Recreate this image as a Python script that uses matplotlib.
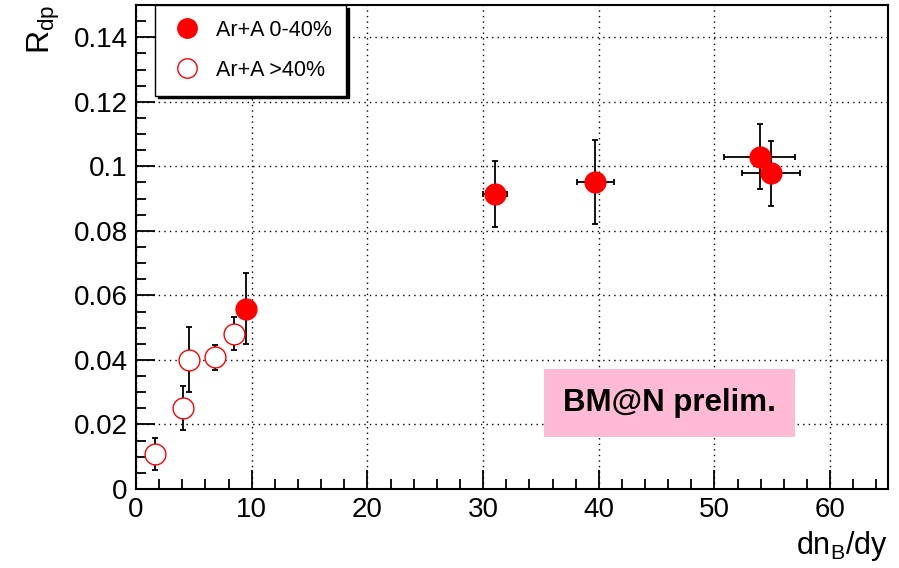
import matplotlib
matplotlib.use('Agg')
import matplotlib.pyplot as plt
from matplotlib.ticker import MultipleLocator
from matplotlib.lines import Line2D
from matplotlib.patches import Rectangle

# Ar+A >40% (open markers)
peri_x = [1.6, 4.1, 4.6, 6.8, 8.5]
peri_y = [0.0109, 0.0251, 0.0401, 0.0408, 0.0481]
peri_yerr = [0.0050, 0.0068, 0.0100, 0.0039, 0.0051]

# Ar+A 0-40% (filled markers)
cent_x = [9.5, 31.0, 39.7, 53.9, 54.9]
cent_y = [0.0559, 0.0913, 0.0952, 0.1030, 0.0979]
cent_xerr = [0.0, 1.04, 1.6, 3.1, 2.5]
cent_yerr = [0.0109, 0.0102, 0.0131, 0.0100, 0.0101]

labels = ['Ar+A 0-40%', 'Ar+A >40%']

plt.rcParams['font.family'] = ['Liberation Sans', 'DejaVu Sans']

fig = plt.figure(figsize=(8.99, 5.68), dpi=100)
ax = fig.add_axes([0.1513, 0.1391, 0.8365, 0.8521])

ax.errorbar(peri_x, peri_y, yerr=peri_yerr, fmt='none', ecolor='black',
            elinewidth=1.3, capsize=2.5, capthick=1.3, zorder=3)
ax.plot(peri_x, peri_y, 'o', ms=15, mfc='white', mec='red', mew=1.0,
        zorder=4, ls='none')

ax.errorbar(cent_x, cent_y, xerr=cent_xerr, yerr=cent_yerr, fmt='none',
            ecolor='black', elinewidth=1.3, capsize=2.5, capthick=1.3, zorder=3)
ax.plot(cent_x, cent_y, 'o', ms=15, mfc='red', mec='red', zorder=4, ls='none')

ax.set_xlim(0, 65)
ax.set_ylim(0, 0.15)
ax.xaxis.set_major_locator(MultipleLocator(10))
ax.xaxis.set_minor_locator(MultipleLocator(2))
ax.yaxis.set_minor_locator(MultipleLocator(0.005))
ax.set_yticks([0, 0.02, 0.04, 0.06, 0.08, 0.1, 0.12, 0.14])
ax.set_yticklabels(['0', '0.02', '0.04', '0.06', '0.08', '0.1', '0.12', '0.14'])

ax.tick_params(which='major', direction='in', length=14, width=1.3,
               labelsize=20, top=False, right=False, pad=6)
ax.tick_params(which='minor', direction='in', length=7, width=1.3,
               top=False, right=False)
ax.grid(True, which='major', color='black', ls=(0, (1, 3)), lw=1.0)
for s in ax.spines.values():
    s.set_linewidth(1.5)

ax.set_xlabel('dn$_\\mathregular{B}$/dy', fontsize=22, loc='right', labelpad=4)
ax.set_ylabel('R$_\\mathregular{dp}$', fontsize=23, loc='top', labelpad=8)

handles = [
    Line2D([], [], marker='o', ls='none', ms=14, mfc='red', mec='red'),
    Line2D([], [], marker='o', ls='none', ms=14, mfc='white', mec='red', mew=1.0),
]
leg = ax.legend(handles, labels, loc='upper left', bbox_to_anchor=(0.025, 1.0),
                borderaxespad=0, fontsize=15.5, frameon=True, fancybox=False,
                edgecolor='black', framealpha=1, handletextpad=0.55,
                handlelength=1.6, borderpad=0.68, labelspacing=0.9,
                shadow={'color': 'black', 'alpha': 1})
leg.get_frame().set_linewidth(1.0)
leg.set_zorder(10)

ax.add_patch(Rectangle((0.5426, 0.108), 0.3337, 0.1393, transform=ax.transAxes,
                       fc='#ffbbd6', ec='none', zorder=5))
ax.text(0.7095, 0.178, 'BM@N prelim.', transform=ax.transAxes,
        fontsize=22.5, fontweight='bold', ha='center', va='center', zorder=6)

fig.savefig('out.png', dpi=100)
